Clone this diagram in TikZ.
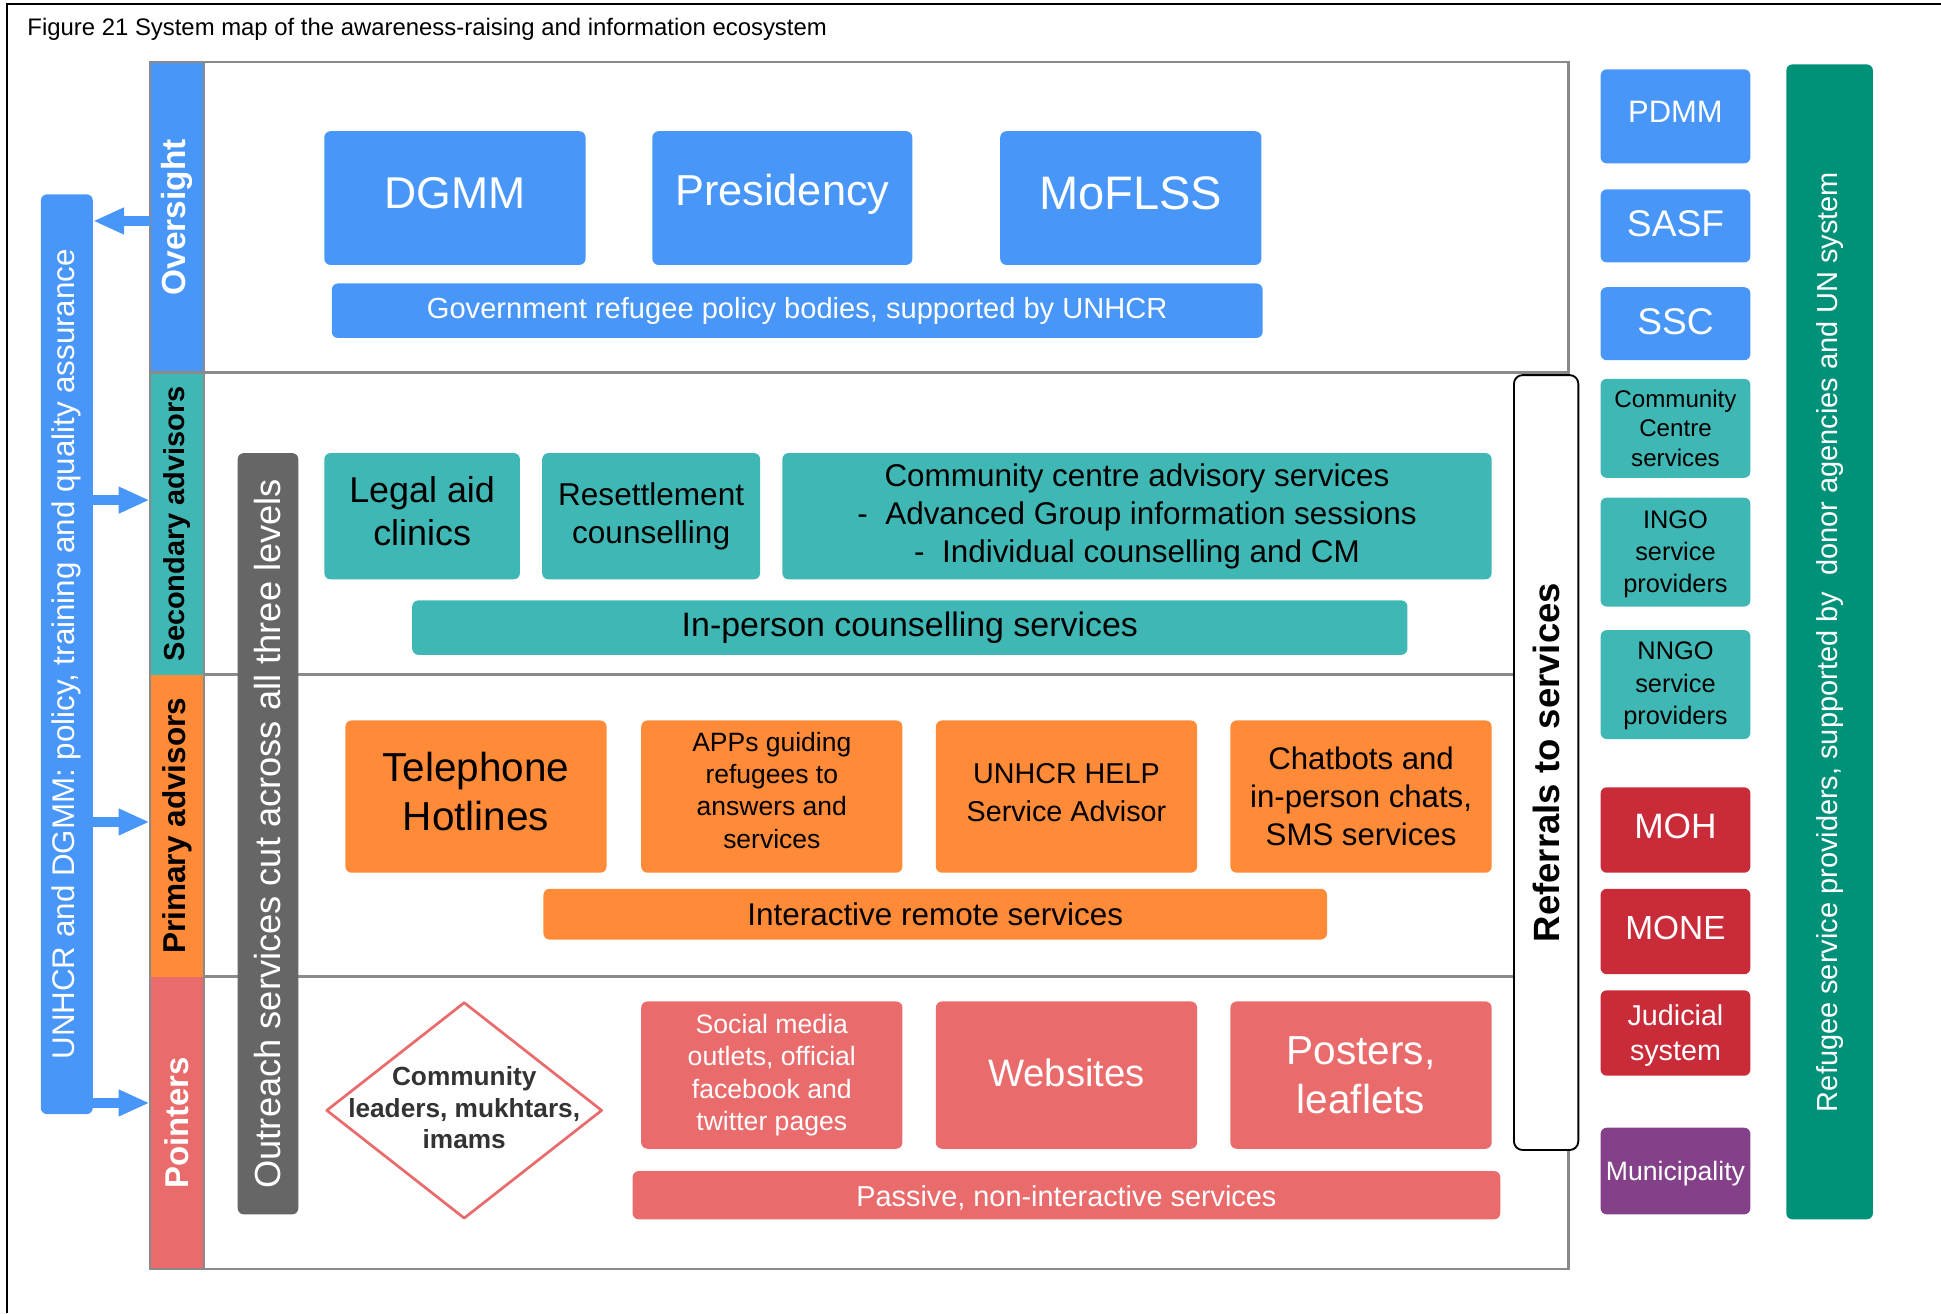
\documentclass[tikz,border=0pt]{standalone}
\usepackage{fontspec}
\setmainfont{Liberation Sans}
\usetikzlibrary{arrows.meta}
\definecolor{cblue}{HTML}{4896F8}
\definecolor{cteal}{HTML}{3FB8B5}
\definecolor{corange}{HTML}{FF8A38}
\definecolor{csalmon}{HTML}{EA6B6B}
\definecolor{cred}{HTML}{C92B38}
\definecolor{cpurple}{HTML}{84418A}
\definecolor{cgreen}{HTML}{009179}
\definecolor{cgrey}{HTML}{666666}
\definecolor{cframe}{HTML}{8A8A8A}
\definecolor{cdark}{HTML}{333333}
\newcommand\fs[2]{\fontsize{#1}{#2}\selectfont}
% \bx[shift up]{name}{x1}{y1}{x2}{y2}{box style}{text style}{text}
\newcommand\bx[9][0]{%
  \node[box,#7,minimum width={(#5)-(#3)},minimum height={(#6)-(#4)}] (#2) at ({((#3)+(#5))/2},{((#4)+(#6))/2}) {};
  \node[inner sep=0pt,align=center,#8] (#2-t) at ([yshift=#1pt]#2.center) {#9};}
\begin{document}
\begin{tikzpicture}[x=1pt,y=-1pt,
  box/.style={rectangle,rounded corners=5pt,inner sep=0pt},
  bluebox/.style={fill=cblue},
  tealbox/.style={fill=cteal},
  orangebox/.style={fill=corange},
  salmonbox/.style={fill=csalmon},
  redbox/.style={fill=cred},
  purplebox/.style={fill=cpurple},
  wt/.style={text=white},
  bt/.style={text=black},
  band/.style={sharp corners},
  frame/.style={draw=cframe,line width=2pt},
  vtext/.style={rotate=90,inner sep=0pt,align=center},
  barrow/.style={draw=cblue,line width=8.5pt,-{Triangle[length=25pt,width=20pt]}}]
\useasboundingbox (0,0) rectangle (1568,1061);
% page frame
\draw[line width=1.6pt] (6,1061) -- (6,3) -- (1568,3);
\node[anchor=west,inner sep=0pt,font=\fs{19.3}{23}] (title) at (22,24) {Figure 21 System map of the awareness-raising and information ecosystem};
% level bands
\bx{bOver}{121}{50}{165}{301}{band,fill=cblue}{}{}
\bx{bSec}{121}{301}{165}{545}{band,fill=cteal}{}{}
\bx{bPri}{121}{545}{165}{789}{band,fill=corange}{}{}
\bx{bPoi}{121}{789}{165}{1025}{band,fill=csalmon}{}{}
\node[vtext,text=white,font=\bfseries\fs{27}{32}] (tOver) at (bOver) {Oversight};
\node[vtext,font=\bfseries\fs{23.4}{28}] (tSec) at (bSec) {Secondary advisors};
\node[vtext,font=\bfseries\fs{25.5}{30}] (tPri) at (bPri) {Primary advisors};
\node[vtext,text=white,font=\bfseries\fs{26.6}{32}] (tPoi) at (bPoi) {Pointers};
% frame lines
\draw[frame] (121,50) -- (1267,50) -- (1267,1025) -- (121,1025) -- cycle;
\draw[frame] (165,50) -- (165,1025);
\draw[frame] (121,301) -- (1267,301);
\draw[frame] (165,545) -- (1224,545);
\draw[frame] (165,789) -- (1224,789);
% left policy bar
\bx{ua}{33}{157}{75}{900}{fill=cblue}{}{}
\node[vtext,text=white,font=\fs{25.3}{30}] (tua) at (ua) {UNHCR and DGMM: policy, training and quality assurance};
\draw[barrow] (bOver.west |- 0,178.5) -- (ua.east |- 0,178.5);
\draw[barrow] (ua.east |- 0,404) -- (bSec.west |- 0,404);
\draw[barrow] (ua.east |- 0,664) -- (bPri.west |- 0,664);
\draw[barrow] (ua.east |- 0,891) -- (bPoi.west |- 0,891);
% outreach bar
\bx{out}{192}{366}{241}{981}{fill=cgrey}{}{}
\node[vtext,text=white,font=\fs{29.3}{35}] (tout) at (out) {Outreach services cut across all three levels};
% oversight
\bx[4]{dgmm}{262}{106}{473}{214}{bluebox}{wt,font=\fs{36}{43}}{DGMM}
\bx[3]{pres}{527}{106}{737}{214}{bluebox}{wt,font=\fs{35}{42}}{Presidency}
\bx[4]{mof}{808}{106}{1019}{214}{bluebox}{wt,font=\fs{38}{45}}{MoFLSS}
\bx{gov}{268}{229}{1020}{273}{bluebox}{wt,font=\fs{23.5}{28}}{Government refugee policy bodies, supported by UNHCR}
% secondary
\bx[4]{legal}{262}{366}{420}{468}{tealbox}{bt,font=\fs{29}{35}}{Legal aid\\clinics}
\bx{resett}{438}{366}{614}{468}{tealbox}{bt,font=\fs{25.5}{31}}{Resettlement\\counselling}
\bx{ccas}{632}{366}{1205}{468}{tealbox}{bt,font=\fs{25.4}{30.5}}{Community centre advisory services\\-\ \ Advanced Group information sessions\\-\ \ Individual counselling and CM}
\bx{inperson}{333}{485}{1137}{529}{tealbox}{bt,font=\fs{27.4}{33}}{In-person counselling services}
% primary
\bx[4]{tel}{279}{582}{490}{705}{orangebox}{bt,font=\fs{32.7}{40}}{Telephone\\Hotlines}
\bx[5]{apps}{518}{582}{729}{705}{orangebox}{bt,font=\fs{21.4}{26}}{APPs guiding\\refugees to\\answers and\\services}
\bx[3]{help}{756}{582}{967}{705}{orangebox}{bt,font=\fs{23.2}{31}}{UNHCR HELP\\Service Advisor}
\bx{chat}{994}{582}{1205}{705}{orangebox}{bt,font=\fs{25.2}{30.5}}{Chatbots and\\in-person chats,\\SMS services}
\bx{inter}{439}{718}{1072}{759}{orangebox}{bt,font=\fs{25.4}{30}}{Interactive remote services}
% pointers
\draw[draw=csalmon,line width=2.2pt,fill=white,line join=round] (375,810) -- (486,897) -- (375,984) -- (264,897) -- cycle;
\node[inner sep=0pt,align=center,text=cdark,font=\bfseries\fs{21.2}{25.5}] (lead) at (375,895) {Community\\leaders, mukhtars,\\imams};
\bx{social}{518}{809}{729}{928}{salmonbox}{wt,font=\fs{21.5}{26}}{Social media\\outlets, official\\facebook and\\twitter pages}
\bx[2]{web}{756}{809}{967}{928}{salmonbox}{wt,font=\fs{30.9}{37}}{Websites}
\bx{post}{994}{809}{1205}{928}{salmonbox}{wt,font=\fs{32.7}{39.5}}{Posters,\\leaflets}
\bx[-2]{passive}{511}{946}{1212}{985}{salmonbox}{wt,font=\fs{23.3}{28}}{Passive, non-interactive services}
% referrals
\bx{ref}{1223}{303}{1275}{929}{fill=white,draw=black,line width=1.5pt,rounded corners=7pt}{}{}
\node[vtext,font=\bfseries\fs{29.5}{35}] (tref) at (ref) {Referrals to services};
% right column
\bx[4]{pdmm}{1293}{56}{1414}{132}{bluebox}{wt,font=\fs{25}{30}}{PDMM}
\bx[2]{sasf}{1293}{153}{1414}{212}{bluebox}{wt,font=\fs{30}{36}}{SASF}
\bx[2]{ssc}{1293}{232}{1414}{291}{bluebox}{wt,font=\fs{30}{36}}{SSC}
\bx{ccs}{1293}{306}{1414}{386}{tealbox}{bt,font=\fs{19.5}{23.5}}{Community\\Centre\\services}
\bx[-2]{ingo}{1293}{402}{1414}{490}{tealbox}{bt,font=\fs{20.5}{26}}{INGO\\service\\providers}
\bx[-1]{nngo}{1293}{509}{1414}{597}{tealbox}{bt,font=\fs{20.5}{26}}{NNGO\\service\\providers}
\bx[3]{moh}{1293}{636}{1414}{705}{redbox}{wt,font=\fs{28.5}{34}}{MOH}
\bx[3]{mone}{1293}{718}{1414}{787}{redbox}{wt,font=\fs{27}{32}}{MONE}
\bx[-2]{jud}{1293}{800}{1414}{869}{redbox}{wt,font=\fs{23.2}{28}}{Judicial\\system}
\bx[-2]{muni}{1293}{911}{1414}{981}{purplebox}{wt,font=\fs{21.5}{26}}{Municipality}
% green bar
\bx{grn}{1443}{52}{1513}{985}{fill=cgreen}{}{}
\node[vtext,text=white,font=\fs{23.4}{28}] (tgrn) at (grn) {Refugee service providers, supported by~ donor agencies and UN system};
\end{tikzpicture}
\end{document}
